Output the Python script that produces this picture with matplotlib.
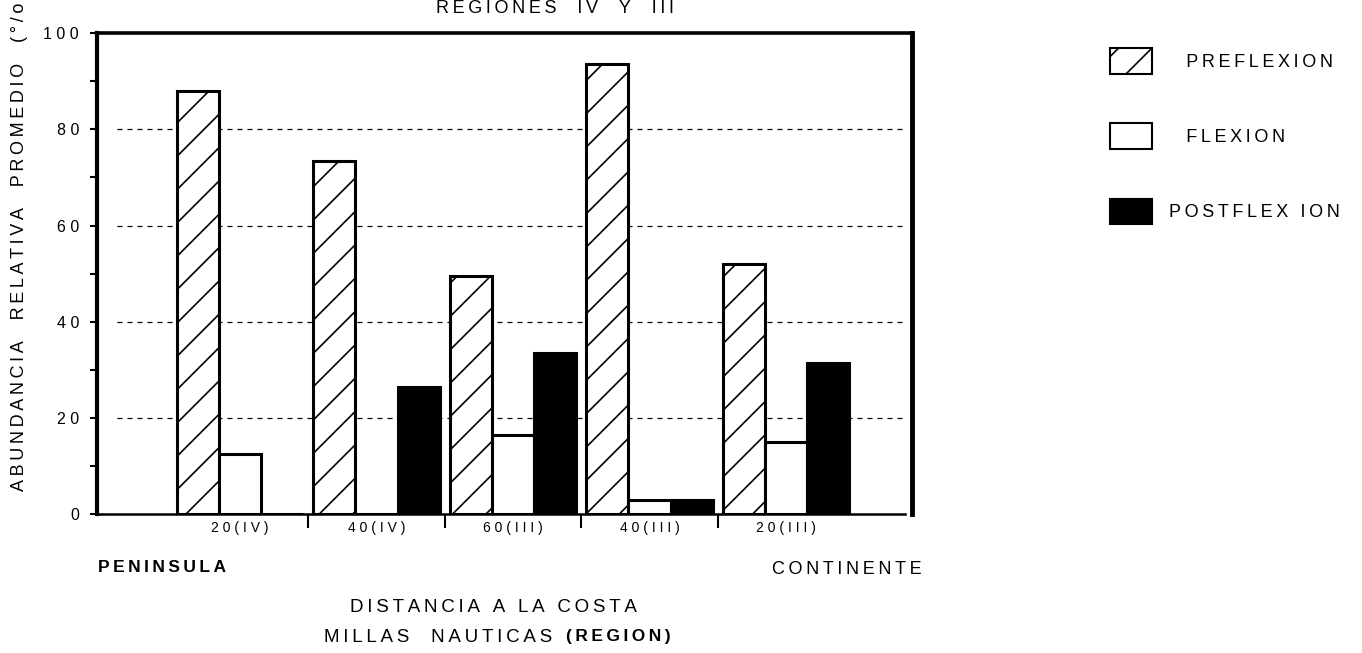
import matplotlib
matplotlib.use("Agg")
import matplotlib.pyplot as plt
from matplotlib.patches import Patch

plt.rcParams['font.family'] = ['Liberation Sans', 'DejaVu Sans']
plt.rcParams['hatch.linewidth'] = 1.2

# abundancia relativa promedio (%) por estacion
estaciones = ['20(IV)', '40(IV)', '60(III)', '40(III)', '20(III)']
preflexion = [88, 73.5, 49.5, 93.5, 52]
flexion = [12.5, 0, 16.5, 3, 15]
postflexion = [0, 26.5, 33.5, 3, 31.5]

yticks = [0, 20, 40, 60, 80, 100]


def spaced(s):
    # letras separadas con espacio fino, estilo rotulador
    return '\u2009'.join(s)


fig = plt.figure(figsize=(13.62, 6.53), dpi=100)
ax = fig.add_axes([0.0712, 0.2121, 0.5984, 0.7374])

x = list(range(len(estaciones)))
w = 0.308

ax.bar([i - w for i in x], preflexion, w, color='white', edgecolor='black',
       hatch='/', linewidth=2.2, zorder=3)
ax.bar(x, flexion, w, color='white', edgecolor='black', linewidth=2.2, zorder=3)
ax.bar([i + w for i in x], postflexion, w, color='black', edgecolor='black',
       linewidth=2.2, zorder=3)

# lineas de referencia
ax.hlines(yticks[1:-1], -0.90, 4.87, colors='black', linestyles=(0, (4, 4)),
          linewidth=0.9, zorder=1)

ax.set_xlim(-1.048, 4.923)
ax.set_ylim(0, 100)

ax.set_yticks(yticks)
ax.set_yticklabels([' '.join(str(v)) for v in yticks], fontsize=11.5)
ax.set_yticks([10, 30, 50, 70, 90], minor=True)
ax.tick_params(axis='y', which='both', direction='out', length=5, width=1.5, pad=8)

ax.set_xticks(x)
ax.set_xticklabels([' '.join(e) for e in estaciones], fontsize=10)
ax.set_xticks([i + 0.5 for i in x[:-1]], minor=True)
ax.tick_params(axis='x', which='major', length=0, pad=5)
ax.tick_params(axis='x', which='minor', direction='out', length=10, width=1.5)

ax.spines['left'].set_linewidth(3)
ax.spines['top'].set_linewidth(2.6)
ax.spines['right'].set_linewidth(3.5)
ax.spines['bottom'].set_linewidth(1.8)
ax.spines['bottom'].set_bounds(-1.048, 4.87)

fig.text(555 / 1362, 1 - 13 / 653, spaced('REGIONES  IV  Y  III'), fontsize=13,
         ha='center', va='baseline')
fig.text(20 / 1362, 1 - 247 / 653,
         spaced('ABUNDANCIA  RELATIVA  PROMEDIO  (°/o'),
         fontsize=13, rotation=90, ha='center', va='center')
fig.text(98 / 1362, 1 - 568 / 653, spaced('PENINSULA'), fontsize=12.5,
         fontweight='bold', ha='left', va='center')
fig.text(922 / 1362, 1 - 569 / 653, spaced('CONTINENTE'), fontsize=13,
         ha='right', va='center')
fig.text(493 / 1362, 1 - 608 / 653, spaced('DISTANCIA A LA COSTA'),
         fontsize=13.5, ha='center', va='center')
fig.text(552 / 1362, 1 - 637 / 653, spaced('MILLAS  NAUTICAS'),
         fontsize=13.5, ha='right', va='center')
fig.text(566 / 1362, 1 - 637 / 653, spaced('(REGION)'),
         fontsize=12.5, fontweight='bold', ha='left', va='center')

handles = [
    Patch(facecolor='white', edgecolor='black', hatch='/', linewidth=1.5),
    Patch(facecolor='white', edgecolor='black', linewidth=1.5),
    Patch(facecolor='black', edgecolor='black', linewidth=1.5),
]
etiquetas = [spaced('  PREFLEXION'), spaced('  FLEXION'), spaced('POSTFLEX ION')]
fig.legend(handles, etiquetas,
           loc='upper left', bbox_to_anchor=(1094 / 1362, 1 - 32 / 653),
           frameon=False, fontsize=13, handlelength=2.33, handleheight=1.8,
           labelspacing=2.75, handletextpad=0.9)

fig.savefig('out.png', dpi=100)
